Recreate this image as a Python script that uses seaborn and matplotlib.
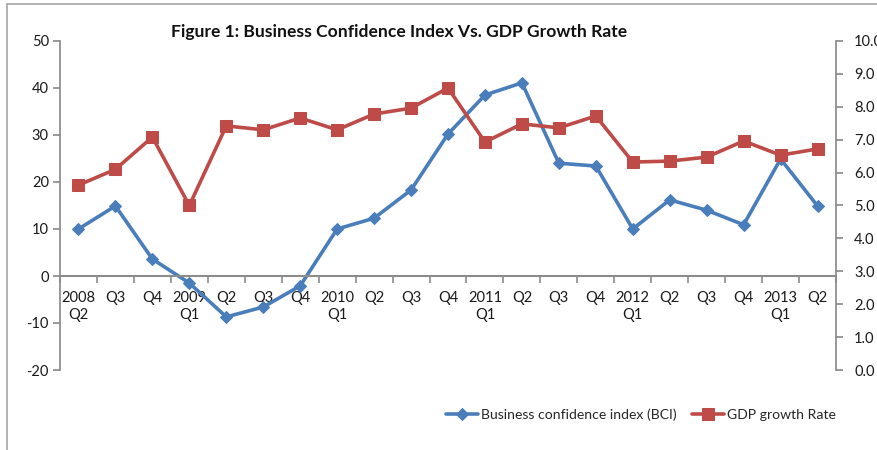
import matplotlib
matplotlib.use("Agg")
import matplotlib.pyplot as plt
import seaborn as sns
import numpy as np
import pandas as pd
from matplotlib.lines import Line2D
from matplotlib.ticker import FixedLocator, FormatStrFormatter

quarters = ["2008\nQ2", "Q3", "Q4", "2009\nQ1", "Q2", "Q3", "Q4",
            "2010\nQ1", "Q2", "Q3", "Q4", "2011\nQ1", "Q2", "Q3", "Q4",
            "2012\nQ1", "Q2", "Q3", "Q4", "2013\nQ1", "Q2"]
bci = [10.0, 14.9, 3.6, -1.5, -8.7, -6.6, -2.1, 10.0, 12.3, 18.3, 30.2,
       38.5, 41.1, 24.0, 23.4, 10.0, 16.2, 14.0, 10.9, 24.9, 14.9]
gdp = [5.62, 6.10, 7.08, 5.00, 7.42, 7.30, 7.66, 7.30, 7.78, 7.96, 8.57,
       6.93, 7.48, 7.36, 7.72, 6.32, 6.35, 6.47, 6.96, 6.53, 6.72]
title = "Figure 1: Business Confidence Index Vs. GDP Growth Rate"
bci_label = "Business confidence index (BCI)"
gdp_label = "GDP growth Rate"

sns.set_theme(style="white")
plt.rcParams['font.family'] = ['Lato', 'DejaVu Sans']
plt.rcParams['axes.unicode_minus'] = False

df = pd.DataFrame({"idx": np.arange(len(quarters)), "bci": bci, "gdp": gdp})

W, H = 878, 450
fig = plt.figure(figsize=(W / 100, H / 100), dpi=100)
ax = fig.add_axes([60 / W, 1 - 370 / H, (836 - 60) / W, (370 - 41) / H])
ax2 = ax.twinx()

blue = "#4A7EBB"
red = "#BE4B48"
axis_gray = "#8C8C8C"
txt = "#1A1A1A"

sns.lineplot(data=df, x="idx", y="bci", ax=ax, color=blue, lw=2.6,
             marker="D", markersize=6.5, markeredgecolor=blue, label=bci_label, legend=False)
sns.lineplot(data=df, x="idx", y="gdp", ax=ax2, color=red, lw=2.6,
             marker="s", markersize=8, markeredgecolor=red, label=gdp_label, legend=False)

n = len(quarters)
ax.set_xlim(-0.5, n - 0.5)
ax.set_ylim(-20, 50)
ax2.set_ylim(0, 10)

for a in (ax, ax2):
    for s in a.spines.values():
        s.set_visible(False)
    a.set_xlabel("")
    a.set_ylabel("")

ax.spines['left'].set_visible(True)
ax.spines['left'].set_color(axis_gray)
ax.spines['bottom'].set_visible(True)
ax.spines['bottom'].set_position(('data', 0))
ax.spines['bottom'].set_color(axis_gray)
ax.spines['bottom'].set_linewidth(1.5)
ax2.spines['right'].set_visible(True)
ax2.spines['right'].set_color(axis_gray)

ax.set_yticks(np.arange(-20, 51, 10))
ax.tick_params(axis='y', direction='out', length=5, color=axis_gray, labelsize=10.5,
               left=True, pad=3, labelcolor=txt)
ax2.set_yticks(np.arange(0, 10.01, 1))
ax2.yaxis.set_major_formatter(FormatStrFormatter("%.1f"))
ax2.tick_params(axis='y', direction='out', length=5, color=axis_gray, labelsize=10.5,
                right=True, pad=8, labelcolor=txt)

ax.set_xticks(np.arange(n))
ax.set_xticklabels(quarters, fontsize=10.5, color=txt, linespacing=1.25)
ax.xaxis.set_minor_locator(FixedLocator(np.arange(-0.5, n, 1.0)))
ax.tick_params(axis='x', which='major', length=0, pad=11)
ax.tick_params(axis='x', which='minor', direction='out', length=5, color=axis_gray,
               width=1.2, bottom=True)

fig.text(399 / W, 1 - 32 / H, title, ha='center', va='center',
         fontsize=12.6, fontweight='bold', color="#111111")

h1, l1 = ax.get_legend_handles_labels()
h2, l2 = ax2.get_legend_handles_labels()
fig.legend(h1 + h2, l1 + l2, loc='center', bbox_to_anchor=(641 / W, 1 - 415 / H),
           ncol=2, frameon=False, fontsize=10.1, handlelength=2.3, handletextpad=0.2,
           columnspacing=1.1)

frame_c = "#A6A6A6"
fig.add_artist(Line2D([7 / W, 7 / W], [0, 1 - 4 / H], color=frame_c, lw=1.2,
                      transform=fig.transFigure))
fig.add_artist(Line2D([7 / W, 1], [1 - 4 / H, 1 - 4 / H], color=frame_c, lw=1.2,
                      transform=fig.transFigure))

fig.savefig("out.png", dpi=100)
